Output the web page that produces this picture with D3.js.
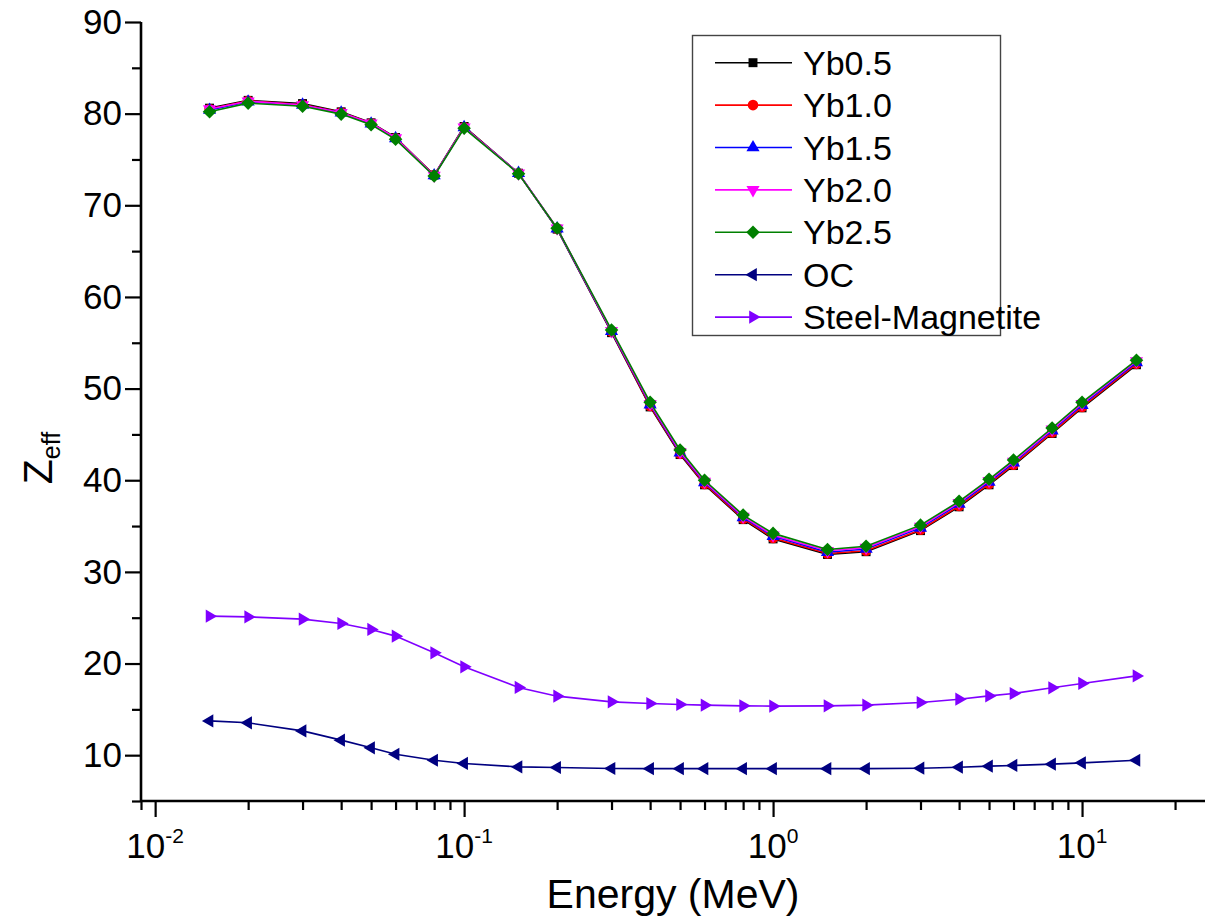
<!DOCTYPE html>
<html>
<head>
<meta charset="utf-8">
<script src="https://cdn.jsdelivr.net/npm/d3@7"></script>
<style>
  html, body { margin: 0; padding: 0; background: #fff; }
  svg { display: block; font-family: "Liberation Sans", Arial, sans-serif; }
</style>
</head>
<body>
<svg id="chart" width="1208" height="923"></svg>
<script>
// Photon energies (MeV)
const energy = [0.015, 0.02, 0.03, 0.04, 0.05, 0.06, 0.08, 0.1, 0.15, 0.2, 0.3, 0.4, 0.5,
                0.6, 0.8, 1, 1.5, 2, 3, 4, 5, 6, 8, 10, 15];

// Effective atomic number for each sample
const yb05 = [80.6, 81.45, 81.1, 80.2, 79.0, 77.4, 73.3, 78.6, 73.5, 67.4, 56.1, 48.0, 42.8,
              39.5, 35.7, 33.6, 31.9, 32.2, 34.5, 37.1, 39.5, 41.6, 45.1, 47.9, 52.6];
const yb10 = [80.5, 81.4, 81.0, 80.15, 78.95, 77.35, 73.3, 78.55, 73.5, 67.45, 56.2, 48.1, 42.9,
              39.6, 35.8, 33.7, 32.0, 32.3, 34.6, 37.2, 39.6, 41.7, 45.2, 48.0, 52.7];
const yb15 = [80.4, 81.3, 80.95, 80.1, 78.9, 77.3, 73.25, 78.5, 73.5, 67.45, 56.25, 48.25, 43.0,
              39.75, 35.95, 33.9, 32.15, 32.5, 34.8, 37.4, 39.8, 41.9, 45.4, 48.2, 52.85];
const yb20 = [80.5, 81.35, 80.95, 80.1, 78.95, 77.35, 73.25, 78.5, 73.5, 67.5, 56.3, 48.35, 43.1,
              39.85, 36.05, 34.0, 32.3, 32.65, 34.95, 37.55, 39.95, 42.05, 45.55, 48.35, 53.0];
const yb25 = [80.2, 81.15, 80.8, 79.95, 78.8, 77.2, 73.2, 78.4, 73.45, 67.5, 56.4, 48.5, 43.3,
              40.0, 36.2, 34.2, 32.45, 32.8, 35.1, 37.7, 40.1, 42.2, 45.7, 48.5, 53.1];
const oc   = [13.74, 13.53, 12.65, 11.64, 10.8, 10.1, 9.45, 9.1, 8.72, 8.66, 8.55, 8.53, 8.53,
              8.53, 8.53, 8.53, 8.53, 8.53, 8.58, 8.69, 8.8, 8.88, 9.02, 9.16, 9.45];
const steel = [25.17, 25.09, 24.84, 24.37, 23.72, 22.99, 21.17, 19.64, 17.39, 16.44, 15.82, 15.64, 15.53,
               15.46, 15.38, 15.35, 15.38, 15.46, 15.75, 16.11, 16.47, 16.73, 17.35, 17.83, 18.65];

const seriesNames = ["Yb0.5", "Yb1.0", "Yb1.5", "Yb2.0", "Yb2.5", "OC", "Steel-Magnetite"];
const seriesValues = [yb05, yb10, yb15, yb20, yb25, oc, steel];
const seriesColors = ["#000000", "#ff0000", "#0000ff", "#ff00ff", "#008000", "#000080", "#8000ff"];
const seriesShapes = ["square", "circle", "up", "down", "diamond", "left", "right"];

const yTicks = [10, 20, 30, 40, 50, 60, 70, 80, 90];
const yMinorTicks = [5, 15, 25, 35, 45, 55, 65, 75, 85];
const xMajorTicks = [0.01, 0.1, 1, 10];
const xTickExponents = ["-2", "-1", "0", "1"];

const svg = d3.select("#chart");

const x = d3.scaleLog().domain([0.009, 25]).range([141, 1205]);
const y = d3.scaleLinear().domain([5, 90]).range([801, 22]);

// Minor ticks on the log axis: 2..9 times each decade
const xMinorTicks = [];
[0.001, 0.01, 0.1, 1, 10].forEach(d => {
  for (let k = 2; k <= 9; k++) {
    const v = d * k;
    if (v >= 0.009 && v <= 25) xMinorTicks.push(v);
  }
});

// ---- axes ----
const axisG = svg.append("g");

// y axis
const yAxis = axisG.append("g").attr("transform", `translate(${x(0.009)},0)`);
yAxis.call(d3.axisLeft(y).tickValues(yTicks).tickSize(16).tickPadding(3).tickFormat(d3.format("d")));
yAxis.append("g").call(d3.axisLeft(y).tickValues(yMinorTicks).tickSize(9).tickFormat(""))
  .select(".domain").remove();
yAxis.selectAll(".domain").attr("stroke", "#000").attr("stroke-width", 2.6);
yAxis.selectAll(".tick line").attr("stroke", "#000").attr("stroke-width", 2.2);
yAxis.selectAll(".tick text")
  .attr("font-size", 35).attr("font-family", "Liberation Sans, Arial, sans-serif")
  .attr("fill", "#000");

// x axis
const xAxis = axisG.append("g").attr("transform", `translate(0,${y(5)})`);
xAxis.call(d3.axisBottom(x).tickValues(xMajorTicks).tickSize(16).tickFormat(""));
xAxis.append("g").call(d3.axisBottom(x).tickValues(xMinorTicks).tickSize(9).tickFormat(""))
  .select(".domain").remove();
xAxis.selectAll(".domain").attr("stroke", "#000").attr("stroke-width", 2.6);
xAxis.selectAll(".tick line").attr("stroke", "#000").attr("stroke-width", 2.2);
xAxis.selectAll("path.domain").attr("d", `M${x(0.009)},0H${x(25)}`);
yAxis.selectAll("path.domain").attr("d", `M0,${y(5)}V${y(90)}`);

// x tick labels as powers of ten
const xLabels = svg.append("g");
xMajorTicks.forEach((v, i) => {
  const t = xLabels.append("text")
    .attr("x", x(v))
    .attr("y", 858)
    .attr("text-anchor", "middle")
    .attr("font-size", 35)
    .attr("fill", "#000");
  t.append("tspan").text("10");
  t.append("tspan").attr("dy", -15).attr("font-size", 21).text(xTickExponents[i]);
});

// axis titles
svg.append("text")
  .attr("x", (x(0.009) + x(25)) / 2)
  .attr("y", 908)
  .attr("text-anchor", "middle")
  .attr("font-size", 41)
  .attr("fill", "#000")
  .text("Energy (MeV)");

const yTitle = svg.append("text")
  .attr("transform", "translate(52,458) rotate(-90)")
  .attr("text-anchor", "middle")
  .attr("font-size", 41)
  .attr("fill", "#000");
yTitle.append("tspan").text("Z");
yTitle.append("tspan").attr("dy", 8).attr("font-size", 25).text("eff");

// ---- markers ----
function symbolPath(shape) {
  switch (shape) {
    case "square":  return { d: d3.symbol().type(d3.symbolSquare).size(80)(), rot: 0 };
    case "circle":  return { d: d3.symbol().type(d3.symbolCircle).size(88)(), rot: 0 };
    case "up":      return { d: d3.symbol().type(d3.symbolTriangle).size(75)(), rot: 0 };
    case "down":    return { d: d3.symbol().type(d3.symbolTriangle).size(75)(), rot: 180 };
    case "left":    return { d: d3.symbol().type(d3.symbolTriangle).size(75)(), rot: -90 };
    case "right":   return { d: d3.symbol().type(d3.symbolTriangle).size(75)(), rot: 90 };
    case "diamond": return { d: d3.symbol().type(d3.symbolSquare).size(92)(), rot: 45 };
  }
}

// ---- series ----
const line = d3.line().x(d => x(d[0])).y(d => y(d[1]));
const plot = svg.append("g");

seriesValues.forEach((vals, i) => {
  const pts = energy.map((e, j) => [e, vals[j]]);
  const g = plot.append("g");
  g.append("path")
    .datum(pts)
    .attr("fill", "none")
    .attr("stroke", seriesColors[i])
    .attr("stroke-width", 1.6)
    .attr("d", line);
  const sym = symbolPath(seriesShapes[i]);
  g.selectAll("path.pt")
    .data(pts)
    .join("path")
    .attr("class", "pt")
    .attr("d", sym.d)
    .attr("fill", seriesColors[i])
    .attr("transform", d => `translate(${x(d[0])},${y(d[1])}) rotate(${sym.rot})`);
});

// ---- legend ----
const legend = svg.append("g");
legend.append("rect")
  .attr("x", 692.5).attr("y", 35.5)
  .attr("width", 308).attr("height", 300)
  .attr("fill", "#fff")
  .attr("stroke", "#444")
  .attr("stroke-width", 1.4);

seriesNames.forEach((name, i) => {
  const cy = 62.7 + i * 42.4;
  legend.append("line")
    .attr("x1", 715).attr("x2", 792)
    .attr("y1", cy).attr("y2", cy)
    .attr("stroke", seriesColors[i])
    .attr("stroke-width", 1.6);
  const sym = symbolPath(seriesShapes[i]);
  legend.append("path")
    .attr("d", sym.d)
    .attr("fill", seriesColors[i])
    .attr("transform", `translate(753,${cy}) rotate(${sym.rot})`);
  legend.append("text")
    .attr("x", 803)
    .attr("y", cy + 12)
    .attr("font-size", 34)
    .attr("fill", "#000")
    .text(name);
});
</script>
</body>
</html>
